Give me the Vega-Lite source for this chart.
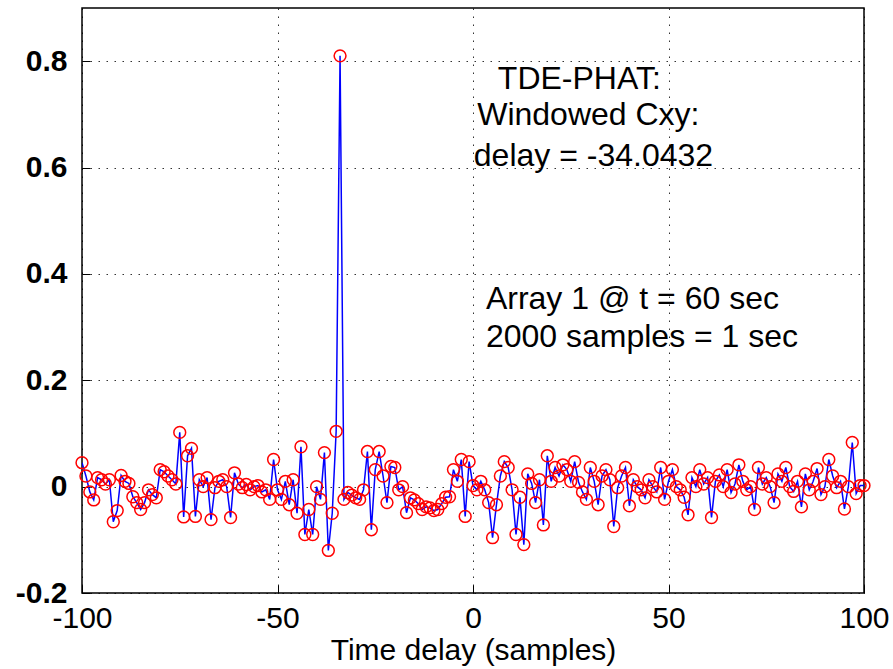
{
  "$schema": "https://vega.github.io/schema/vega-lite/v6.json",
  "width": 782,
  "height": 585,
  "autosize": {"type": "none"},
  "padding": {"left": 82, "top": 8, "right": 29, "bottom": 76},
  "background": "white",
  "config": {
    "view": {"stroke": "black", "strokeWidth": 1.5},
    "font": "Liberation Sans"
  },
  "datasets": {
    "cxy": [
      {"lag": -100, "v": 0.045}, {"lag": -99, "v": 0.02}, {"lag": -98, "v": -0.01}, {"lag": -97, "v": -0.025}, {"lag": -96, "v": 0.017},
      {"lag": -95, "v": 0.013}, {"lag": -94, "v": 0.005}, {"lag": -93, "v": 0.013}, {"lag": -92, "v": -0.066}, {"lag": -91, "v": -0.045},
      {"lag": -90, "v": 0.021}, {"lag": -89, "v": 0.01}, {"lag": -88, "v": 0.006}, {"lag": -87, "v": -0.019}, {"lag": -86, "v": -0.03},
      {"lag": -85, "v": -0.043}, {"lag": -84, "v": -0.03}, {"lag": -83, "v": -0.006}, {"lag": -82, "v": -0.015}, {"lag": -81, "v": -0.021},
      {"lag": -80, "v": 0.032}, {"lag": -79, "v": 0.028}, {"lag": -78, "v": 0.02}, {"lag": -77, "v": 0.013}, {"lag": -76, "v": 0.005},
      {"lag": -75, "v": 0.102}, {"lag": -74, "v": -0.057}, {"lag": -73, "v": 0.058}, {"lag": -72, "v": 0.072}, {"lag": -71, "v": -0.056},
      {"lag": -70, "v": 0.013}, {"lag": -69, "v": 0.0}, {"lag": -68, "v": 0.017}, {"lag": -67, "v": -0.062}, {"lag": -66, "v": -0.002},
      {"lag": -65, "v": 0.01}, {"lag": -64, "v": 0.013}, {"lag": -63, "v": 0.0}, {"lag": -62, "v": -0.058}, {"lag": -61, "v": 0.026},
      {"lag": -60, "v": 0.005}, {"lag": -59, "v": -0.002}, {"lag": -58, "v": 0.004}, {"lag": -57, "v": -0.006}, {"lag": -56, "v": 0.0},
      {"lag": -55, "v": 0.002}, {"lag": -54, "v": -0.01}, {"lag": -53, "v": -0.006}, {"lag": -52, "v": -0.024}, {"lag": -51, "v": 0.051},
      {"lag": -50, "v": -0.006}, {"lag": -49, "v": -0.024}, {"lag": -48, "v": 0.01}, {"lag": -47, "v": -0.034}, {"lag": -46, "v": 0.013},
      {"lag": -45, "v": -0.05}, {"lag": -44, "v": 0.075}, {"lag": -43, "v": -0.09}, {"lag": -42, "v": -0.043}, {"lag": -41, "v": -0.09},
      {"lag": -40, "v": 0.0}, {"lag": -39, "v": -0.024}, {"lag": -38, "v": 0.064}, {"lag": -37, "v": -0.12}, {"lag": -36, "v": -0.05},
      {"lag": -35, "v": 0.104}, {"lag": -34, "v": 0.81}, {"lag": -33, "v": -0.024}, {"lag": -32, "v": -0.011}, {"lag": -31, "v": -0.016},
      {"lag": -30, "v": -0.021}, {"lag": -29, "v": -0.024}, {"lag": -28, "v": -0.006}, {"lag": -27, "v": 0.066}, {"lag": -26, "v": -0.081},
      {"lag": -25, "v": 0.032}, {"lag": -24, "v": 0.066}, {"lag": -23, "v": 0.02}, {"lag": -22, "v": -0.03}, {"lag": -21, "v": 0.038},
      {"lag": -20, "v": 0.036}, {"lag": -19, "v": -0.006}, {"lag": -18, "v": 0.0}, {"lag": -17, "v": -0.049}, {"lag": -16, "v": -0.021},
      {"lag": -15, "v": -0.025}, {"lag": -14, "v": -0.032}, {"lag": -13, "v": -0.043}, {"lag": -12, "v": -0.038}, {"lag": -11, "v": -0.04},
      {"lag": -10, "v": -0.045}, {"lag": -9, "v": -0.043}, {"lag": -8, "v": -0.032}, {"lag": -7, "v": -0.02}, {"lag": -6, "v": -0.019},
      {"lag": -5, "v": 0.032}, {"lag": -4, "v": 0.01}, {"lag": -3, "v": 0.051}, {"lag": -2, "v": -0.056}, {"lag": -1, "v": 0.047},
      {"lag": 0, "v": 0.002}, {"lag": 1, "v": -0.006}, {"lag": 2, "v": 0.01}, {"lag": 3, "v": -0.006}, {"lag": 4, "v": -0.03},
      {"lag": 5, "v": -0.096}, {"lag": 6, "v": -0.034}, {"lag": 7, "v": 0.02}, {"lag": 8, "v": 0.047}, {"lag": 9, "v": 0.036},
      {"lag": 10, "v": -0.006}, {"lag": 11, "v": -0.09}, {"lag": 12, "v": -0.02}, {"lag": 13, "v": -0.109}, {"lag": 14, "v": 0.024},
      {"lag": 15, "v": 0.006}, {"lag": 16, "v": -0.03}, {"lag": 17, "v": 0.013}, {"lag": 18, "v": -0.072}, {"lag": 19, "v": 0.058},
      {"lag": 20, "v": 0.01}, {"lag": 21, "v": 0.036}, {"lag": 22, "v": 0.02}, {"lag": 23, "v": 0.041}, {"lag": 24, "v": 0.032},
      {"lag": 25, "v": 0.01}, {"lag": 26, "v": 0.047}, {"lag": 27, "v": 0.008}, {"lag": 28, "v": -0.01}, {"lag": 29, "v": -0.024},
      {"lag": 30, "v": 0.036}, {"lag": 31, "v": 0.01}, {"lag": 32, "v": -0.034}, {"lag": 33, "v": 0.02}, {"lag": 34, "v": 0.032},
      {"lag": 35, "v": 0.013}, {"lag": 36, "v": -0.075}, {"lag": 37, "v": -0.002}, {"lag": 38, "v": 0.02}, {"lag": 39, "v": 0.036},
      {"lag": 40, "v": -0.036}, {"lag": 41, "v": 0.013}, {"lag": 42, "v": 0.0}, {"lag": 43, "v": -0.006}, {"lag": 44, "v": -0.021},
      {"lag": 45, "v": 0.013}, {"lag": 46, "v": 0.0}, {"lag": 47, "v": -0.01}, {"lag": 48, "v": 0.036}, {"lag": 49, "v": -0.024},
      {"lag": 50, "v": 0.01}, {"lag": 51, "v": 0.032}, {"lag": 52, "v": 0.0}, {"lag": 53, "v": -0.006}, {"lag": 54, "v": -0.02},
      {"lag": 55, "v": -0.053}, {"lag": 56, "v": 0.017}, {"lag": 57, "v": 0.0}, {"lag": 58, "v": 0.032}, {"lag": 59, "v": 0.005},
      {"lag": 60, "v": 0.017}, {"lag": 61, "v": -0.058}, {"lag": 62, "v": 0.01}, {"lag": 63, "v": 0.022}, {"lag": 64, "v": 0.0},
      {"lag": 65, "v": 0.032}, {"lag": 66, "v": -0.011}, {"lag": 67, "v": 0.005}, {"lag": 68, "v": 0.041}, {"lag": 69, "v": 0.01},
      {"lag": 70, "v": -0.006}, {"lag": 71, "v": 0.0}, {"lag": 72, "v": -0.043}, {"lag": 73, "v": 0.036}, {"lag": 74, "v": 0.005},
      {"lag": 75, "v": 0.017}, {"lag": 76, "v": 0.0}, {"lag": 77, "v": -0.03}, {"lag": 78, "v": 0.024}, {"lag": 79, "v": 0.01},
      {"lag": 80, "v": 0.036}, {"lag": 81, "v": 0.0}, {"lag": 82, "v": -0.009}, {"lag": 83, "v": 0.01}, {"lag": 84, "v": -0.038},
      {"lag": 85, "v": 0.024}, {"lag": 86, "v": -0.006}, {"lag": 87, "v": 0.01}, {"lag": 88, "v": 0.034}, {"lag": 89, "v": -0.015},
      {"lag": 90, "v": 0.0}, {"lag": 91, "v": 0.051}, {"lag": 92, "v": 0.02}, {"lag": 93, "v": -0.002}, {"lag": 94, "v": 0.01},
      {"lag": 95, "v": -0.042}, {"lag": 96, "v": 0.0}, {"lag": 97, "v": 0.083}, {"lag": 98, "v": -0.013}, {"lag": 99, "v": 0.002},
      {"lag": 100, "v": 0.002}
    ],
    "notesCenter": [
      {"lag": 27.2, "v": 0.766, "txt": "TDE-PHAT:"},
      {"lag": 29.5, "v": 0.699, "txt": "Windowed Cxy:"},
      {"lag": 30.8, "v": 0.621, "txt": "delay = -34.0432"}
    ],
    "notesLeft": [
      {"lag": 3.3, "v": 0.352, "txt": "Array 1 @ t = 60 sec"},
      {"lag": 3.3, "v": 0.281, "txt": "2000 samples = 1 sec"}
    ]
  },
  "encoding": {
    "x": {
      "field": "lag", "type": "quantitative",
      "scale": {"domain": [-100, 100], "nice": false, "zero": false},
      "axis": {
        "values": [-100, -50, 0, 50, 100],
        "labelExpr": "toString(datum.value)",
        "title": "Time delay (samples)",
        "titleFont": "Liberation Sans",
        "titleFontSize": 30, "titleFontWeight": "normal", "titleColor": "black",
        "titlePadding": 2,
        "labelFont": "Liberation Sans",
        "labelFontSize": 30, "labelColor": "black", "labelPadding": 18,
        "labelFlush": false, "labelOverlap": false,
        "domain": false, "tickSize": -8, "tickColor": "black",
        "grid": true, "gridColor": "black", "gridDash": [1.5, 6.5], "gridOpacity": 0.8
      }
    },
    "y": {
      "field": "v", "type": "quantitative",
      "scale": {"domain": [-0.2, 0.9], "nice": false, "zero": false},
      "axis": {
        "values": [-0.2, 0, 0.2, 0.4, 0.6, 0.8],
        "labelExpr": "toString(datum.value)",
        "title": null,
        "labelFont": "Liberation Sans",
        "labelFontSize": 30, "labelFontWeight": "bold", "labelColor": "black", "labelPadding": 23,
        "labelFlush": false, "labelOverlap": false,
        "domain": false, "tickSize": -8, "tickColor": "black",
        "grid": true, "gridColor": "black", "gridDash": [1.5, 6.5], "gridOpacity": 0.8
      }
    }
  },
  "layer": [
    {
      "data": {"name": "cxy"},
      "mark": {"type": "line", "color": "#0000ff", "strokeWidth": 1.5, "clip": true}
    },
    {
      "data": {"name": "cxy"},
      "mark": {"type": "point", "shape": "circle", "filled": false, "color": "#ff0000", "size": 140, "strokeWidth": 1.5, "opacity": 1}
    },
    {
      "data": {"name": "notesCenter"},
      "mark": {"type": "text", "font": "Liberation Sans", "fontSize": 32, "color": "black", "baseline": "middle", "align": "center"},
      "encoding": {"text": {"field": "txt"}}
    },
    {
      "data": {"name": "notesLeft"},
      "mark": {"type": "text", "font": "Liberation Sans", "fontSize": 32, "color": "black", "baseline": "middle", "align": "left"},
      "encoding": {"text": {"field": "txt"}}
    }
  ]
}
